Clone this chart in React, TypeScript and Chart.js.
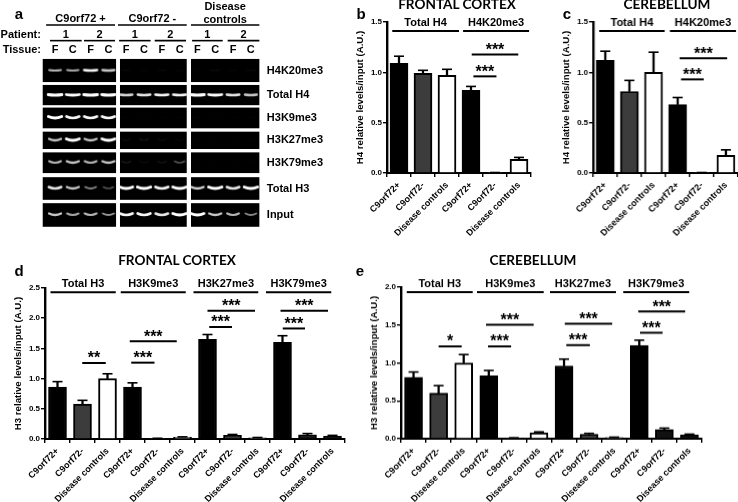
import React, { useEffect, useRef } from "react";
import { Chart, registerables } from "chart.js";

Chart.register(...registerables);

const SANS = "'Liberation Sans', Arial, sans-serif";
const HEAD = "Lato, 'Noto Sans', sans-serif";

// ---------- bar panels ----------
const shortLabels = ["C9orf72+", "C9orf72-", "Disease controls", "C9orf72+", "C9orf72-", "Disease controls"];
const longLabels = [...shortLabels, ...shortLabels];

const bMeans = [1.09, 0.99, 0.97, 0.82, 0.005, 0.135];
const bTops = [1.16, 1.02, 1.03, 0.86, 0.005, 0.155];
const cMeans = [1.12, 0.81, 1.0, 0.68, 0.005, 0.175];
const cTops = [1.21, 0.92, 1.2, 0.75, 0.005, 0.23];
const dMeans = [0.86, 0.58, 1.0, 0.86, 0.01, 0.03, 1.65, 0.06, 0.02, 1.6, 0.07, 0.05];
const dTops = [0.95, 0.64, 1.08, 0.93, 0.012, 0.035, 1.73, 0.075, 0.025, 1.71, 0.09, 0.06];
const eMeans = [0.81, 0.6, 1.0, 0.83, 0.01, 0.08, 0.96, 0.06, 0.015, 1.23, 0.12, 0.05];
const eTops = [0.88, 0.7, 1.11, 0.9, 0.012, 0.09, 1.05, 0.07, 0.02, 1.3, 0.14, 0.06];

const shortFill = ["#000", "#3c3c3c", "#fff", "#000", "#3c3c3c", "#fff"];
const longFill = ["#000", "#3c3c3c", "#fff", "#000", "#3c3c3c", "#fff", "#000", "#3c3c3c", "#fff", "#000", "#111", "#111"];

type Group = [string, number, number];
type Sig = [string, number, number, number];

const bGroups: Group[] = [["Total H4", -0.28, 2.5], ["H4K20me3", 2.67, 5.42]];
const cGroups: Group[] = [["Total H4", -0.25, 2.46], ["H4K20me3", 2.68, 5.42]];
const dGroups: Group[] = [["Total H3", -0.28, 2.33], ["H3K9me3", 2.53, 5.13], ["H3K27me3", 5.44, 8.03], ["H3K79me3", 8.34, 10.95]];
const eGroups: Group[] = [["Total H3", -0.27, 2.36], ["H3K9me3", 2.53, 5.19], ["H3K27me3", 5.44, 8.07], ["H3K79me3", 8.36, 10.99]];

const bSigs: Sig[] = [["***", 3.1, 4.06, 0.96], ["***", 3.03, 4.97, 1.177]];
const cSigs: Sig[] = [["***", 3.14, 4.08, 0.93], ["***", 3.08, 5.05, 1.14]];
const dSigs: Sig[] = [
  ["**", 0.99, 1.93, 1.258], ["***", 2.95, 3.88, 1.264], ["***", 2.89, 4.77, 1.62],
  ["***", 6.07, 6.98, 1.854], ["***", 6.0, 7.9, 2.125], ["***", 9.01, 9.9, 1.83], ["***", 8.92, 10.82, 2.125],
];
const eSigs: Sig[] = [
  ["*", 1, 1.92, 1.218], ["***", 2.97, 3.89, 1.218], ["***", 2.89, 4.79, 1.503],
  ["***", 6.09, 7.03, 1.235], ["***", 6.03, 7.92, 1.516], ["***", 9.03, 9.93, 1.398], ["***", 8.96, 10.83, 1.679],
];

// ---------- gel panel ----------
const rowNames = ["H4K20me3", "Total H4", "H3K9me3", "H3K27me3", "H3K79me3", "Total H3", "Input"];
const rowCenters = [0, 1.02, 1.97, 2.9, 3.83, 4.9, 6];
const rowHalf = [0.48, 0.42, 0.43, 0.36, 0.43, 0.47, 0.49];
const laneLetters = ["F", "C", "F", "C", "F", "C", "F", "C", "F", "C", "F", "C"];
const laneBlocks = [[-0.69, 3.43], [3.65, 7.4], [7.64, 11.48]];
const h4k20 = [0.55, 0.5, 0.75, 0.6, 0.02, 0.01, 0.02, 0.01, 0, 0.03, 0.01, 0.02];
const totalH4 = [0.9, 0.8, 0.95, 0.85, 0.65, 0.7, 0.75, 0.75, 0.95, 0.8, 0.7, 0.6];
const h3k9 = [0.85, 0.75, 0.75, 0.75, 0, 0, 0, 0, 0, 0, 0, 0];
const h3k27 = [0.6, 0.8, 0.6, 0.8, 0.03, 0.06, 0.03, 0.02, 0, 0, 0, 0];
const h3k79 = [0.55, 0.6, 0.55, 0.6, 0.08, 0.03, 0.06, 0.25, 0, 0, 0, 0];
const totalH3 = [0.7, 0.6, 0.4, 0.25, 0.8, 0.85, 0.75, 0.9, 0.65, 0.85, 0.7, 0.85];
const inputRow = [0.6, 0.5, 0.55, 0.45, 0.75, 0.75, 0.7, 0.9, 0.8, 0.6, 0.55, 0.4];
const rowValues = [h4k20, totalH4, h3k9, h3k27, h3k79, totalH3, inputRow];
const conditionHeads: [string[], number, number][] = [
  [["C9orf72 +"], -0.5, 3.37],
  [["C9orf72 -"], 3.54, 7.4],
  [["Disease", "controls"], 7.64, 11.48],
];
const patientSpans: [string, number, number][] = [
  ["1", -0.28, 1.5], ["2", 1.63, 3.37], ["1", 3.6, 5.37], ["2", 5.6, 7.36], ["1", 7.7, 9.42], ["2", 9.7, 11.48],
];

const spriteCache = new Map<string, HTMLCanvasElement>();
function bandSprite(v: number, bend: number) {
  const key = v + "|" + bend;
  const hit = spriteCache.get(key);
  if (hit) return hit;
  const c = document.createElement("canvas");
  c.width = 22;
  c.height = 14;
  const g = c.getContext("2d")!;
  const half = 4 + 2.8 * Math.min(1, v + 0.1);
  g.filter = "blur(0.7px)";
  g.strokeStyle = `rgba(255,255,255,${Math.min(1, v * 1.25 + 0.02)})`;
  g.lineWidth = 1 + 2.2 * v;
  g.lineCap = "round";
  g.beginPath();
  g.moveTo(11 - half, 7 - bend);
  g.quadraticCurveTo(11, 7 + bend, 11 + half, 7 - bend);
  g.stroke();
  spriteCache.set(key, c);
  return c;
}

function gelConfig() {
  const gelPlugin = {
    id: "gel",
    beforeDatasetsDraw(chart: any) {
      const { ctx, scales: { x, y } } = chart;
      ctx.save();
      ctx.fillStyle = "#000";
      rowCenters.forEach((rc, r) => {
        laneBlocks.forEach(([a, b]) => {
          const t = y.getPixelForValue(rc - rowHalf[r]);
          const bt = y.getPixelForValue(rc + rowHalf[r]);
          ctx.fillRect(x.getPixelForValue(a), t, x.getPixelForValue(b) - x.getPixelForValue(a), bt - t);
        });
      });
      ctx.restore();
    },
    afterDatasetsDraw(chart: any) {
      const { ctx, scales: { x, y } } = chart;
      const X = (v: number) => x.getPixelForValue(v);
      const Y = (v: number) => y.getPixelForValue(v);
      ctx.save();
      ctx.fillStyle = "#000";
      ctx.strokeStyle = "#000";
      ctx.textBaseline = "middle";
      ctx.font = `bold 11px ${SANS}`;
      ctx.textAlign = "left";
      rowNames.forEach((n, r) => ctx.fillText(n, X(11.9), Y(rowCenters[r])));
      ctx.textAlign = "center";
      ctx.lineWidth = 1.6;
      conditionHeads.forEach(([lines, a, b]) => {
        const mid = X((a + b) / 2);
        if (lines.length === 1) ctx.fillText(lines[0], mid, Y(-2.13));
        else {
          ctx.fillText(lines[0], mid, Y(-2.65));
          ctx.fillText(lines[1], mid, Y(-2.1));
        }
        ctx.beginPath();
        ctx.moveTo(X(a), Y(-1.89));
        ctx.lineTo(X(b), Y(-1.89));
        ctx.stroke();
      });
      patientSpans.forEach(([n, a, b]) => {
        ctx.fillText(n, X((a + b) / 2), Y(-1.47));
        ctx.beginPath();
        ctx.moveTo(X(a), Y(-1.24));
        ctx.lineTo(X(b), Y(-1.24));
        ctx.stroke();
      });
      laneLetters.forEach((l, i) => ctx.fillText(l, X(i), Y(-0.84)));
      ctx.textAlign = "right";
      ctx.fillText("Patient:", X(-0.79), Y(-1.47));
      ctx.fillText("Tissue:", X(-0.79), Y(-0.84));
      ctx.restore();
    },
  };
  return {
    type: "scatter" as const,
    plugins: [gelPlugin],
    data: {
      datasets: rowValues.map((vals, r) => ({
        label: rowNames[r],
        data: vals.map((v, i) => ({ x: i, y: rowCenters[r], v })),
        pointRadius: 8,
        clip: false,
        pointStyle: (ctx: any) => bandSprite(ctx.raw ? ctx.raw.v : 0, r >= 2 ? 1.5 : 0.5),
      })),
    },
    options: {
      animation: false as const,
      responsive: false,
      events: [],
      layout: { padding: 0, autoPadding: false },
      plugins: { legend: { display: false }, tooltip: { enabled: false } },
      scales: {
        x: { type: "linear" as const, display: false, min: -3.09, max: 16.01 },
        y: { type: "linear" as const, display: false, reverse: true, min: -2.928, max: 7.039 },
      },
    },
  };
}

type Panel = {
  labels: string[]; means: number[]; tops: number[]; fills: string[]; yMax: number; step: number;
  yTitle: string; groups: Group[]; sigs: Sig[]; groupY: number; left: number; top: number; w: number; h: number;
};

const PAD_L = 40, PAD_T = 24, PAD_R = 12, PAD_B = 80;

const panels: Panel[] = [
  { labels: shortLabels, means: bMeans, tops: bTops, fills: shortFill, yMax: 1.5, step: 0.5, yTitle: "H4 relative levels/input (A.U.)", groups: bGroups, sigs: bSigs, groupY: 1.41, left: 387, top: 21.7, w: 144, h: 151.3 },
  { labels: shortLabels, means: cMeans, tops: cTops, fills: shortFill, yMax: 1.5, step: 0.5, yTitle: "H4 relative levels/input (A.U.)", groups: cGroups, sigs: cSigs, groupY: 1.41, left: 593, top: 21.7, w: 144.5, h: 151.3 },
  { labels: longLabels, means: dMeans, tops: dTops, fills: longFill, yMax: 2.5, step: 0.5, yTitle: "H3 relative levels/input (A.U.)", groups: dGroups, sigs: dSigs, groupY: 2.43, left: 44.5, top: 288.3, w: 300, h: 151 },
  { labels: longLabels, means: eMeans, tops: eTops, fills: longFill, yMax: 2.0, step: 0.5, yTitle: "H3 relative levels/input (A.U.)", groups: eGroups, sigs: eSigs, groupY: 1.934, left: 400.5, top: 287.3, w: 301, h: 151.7 },
];

function panelConfig(p: Panel) {
  const overlay = {
    id: "brackets",
    afterDatasetsDraw(chart: any) {
      const { ctx, scales: { x, y } } = chart;
      ctx.save();
      ctx.fillStyle = "#000";
      ctx.strokeStyle = "#000";
      ctx.textAlign = "center";
      ctx.textBaseline = "middle";
      const line = (a: number, b: number, v: number) => {
        ctx.beginPath();
        ctx.moveTo(x.getPixelForValue(a), y.getPixelForValue(v));
        ctx.lineTo(x.getPixelForValue(b), y.getPixelForValue(v));
        ctx.stroke();
      };
      ctx.lineWidth = 2;
      p.groups.forEach(([name, a, b]) => {
        line(a, b, p.groupY);
        ctx.font = `bold 11px ${SANS}`;
        ctx.fillText(name, x.getPixelForValue((a + b) / 2), y.getPixelForValue(p.groupY) - 8);
      });
      p.sigs.forEach(([stars, a, b, v]) => {
        line(a, b, v);
        ctx.font = `bold 16px ${SANS}`;
        ctx.fillText(stars, x.getPixelForValue((a + b) / 2), y.getPixelForValue(v) - 4);
      });
      ctx.restore();
    },
  };
  return {
    type: "bar" as const,
    plugins: [overlay],
    data: {
      labels: p.labels,
      datasets: [
        {
          type: "bar" as const, label: "mean", data: p.means, backgroundColor: p.fills, borderColor: "#000",
          borderWidth: 2, barThickness: 18, grouped: false, order: 1, clip: false as const,
        },
        {
          type: "bar" as const, label: "sem", data: p.means.map((m, i) => [m, p.tops[i]]), backgroundColor: "#000",
          borderWidth: 0, barThickness: 1.6, grouped: false, order: 2, clip: false as const,
        },
        {
          type: "line" as const, label: "cap", data: p.tops, showLine: false, pointStyle: "line", pointRadius: 5,
          borderColor: "#000", borderWidth: 1.6, order: 0, clip: false as const,
        },
      ],
    },
    options: {
      animation: false as const,
      responsive: false,
      events: [],
      layout: { padding: { top: PAD_T, right: PAD_R, left: 0, bottom: 0 } },
      plugins: { legend: { display: false }, tooltip: { enabled: false } },
      scales: {
        x: {
          type: "category" as const,
          border: { display: true, color: "#000", width: 2 },
          grid: { display: true, drawOnChartArea: false, drawTicks: true, tickLength: 4, color: "#000", lineWidth: 1.4 },
          ticks: { color: "#000", font: { family: SANS, weight: "bold" as const, size: 9 }, maxRotation: 45, minRotation: 45, autoSkip: false, padding: 3 },
          afterFit: (s: any) => { s.height = PAD_B; },
        },
        y: {
          min: 0, max: p.yMax,
          border: { display: true, color: "#000", width: 2.4 },
          grid: { display: true, drawOnChartArea: false, drawTicks: true, tickLength: 4, color: "#000", lineWidth: 1.4 },
          ticks: { stepSize: p.step, color: "#000", font: { family: SANS, weight: "bold" as const, size: 8 }, padding: 1, callback: (v: any) => Number(v).toFixed(1) },
          title: { display: true, text: p.yTitle, color: "#000", font: { family: SANS, weight: "bold" as const, size: 9.7 }, padding: { top: 8, bottom: 0 } },
          afterFit: (s: any) => { s.width = PAD_L; },
        },
      },
    },
  };
}

const texts: [string, number, number, number, string][] = [
  ["a", 19, 13, 15, SANS],
  ["b", 361, 13, 15, SANS],
  ["c", 567, 13, 15, SANS],
  ["d", 19, 270, 15, SANS],
  ["e", 360, 270, 15, SANS],
  ["FRONTAL CORTEX", 457, 5, 13.6, HEAD],
  ["CEREBELLUM", 667, 5, 13.6, HEAD],
  ["FRONTAL CORTEX", 177, 261, 13.6, HEAD],
  ["CEREBELLUM", 533, 261, 13.6, HEAD],
];

export default function App() {
  const gelRef = useRef<HTMLCanvasElement | null>(null);
  const refs = useRef<(HTMLCanvasElement | null)[]>([]);

  useEffect(() => {
    const charts: Chart[] = [];
    charts.push(new Chart(gelRef.current!, gelConfig() as any));
    panels.forEach((p, i) => {
      charts.push(new Chart(refs.current[i]!, panelConfig(p) as any));
    });
    return () => charts.forEach((c) => c.destroy());
  }, []);

  return (
    <div style={{ position: "absolute", left: 0, top: 0, width: 738, height: 502, overflow: "hidden", background: "#fff" }}>
      <canvas ref={gelRef} width={340} height={240} style={{ position: "absolute", left: 0, top: 0, width: 340, height: 240 }} />
      {panels.map((p, i) => {
        const w = p.w + PAD_L + PAD_R;
        const h = p.h + PAD_T + PAD_B;
        return (
          <canvas
            key={i}
            ref={(el) => { refs.current[i] = el; }}
            width={w}
            height={h}
            style={{ position: "absolute", left: p.left - PAD_L, top: p.top - PAD_T, width: w, height: h }}
          />
        );
      })}
      {texts.map(([t, x, y, size, font], i) => (
        <div
          key={i}
          style={{
            position: "absolute", left: x, top: y, transform: "translate(-50%,-50%)", fontFamily: font,
            fontWeight: "bold", fontSize: size, whiteSpace: "nowrap", color: "#000", lineHeight: 1,
          }}
        >
          {t}
        </div>
      ))}
    </div>
  );
}
